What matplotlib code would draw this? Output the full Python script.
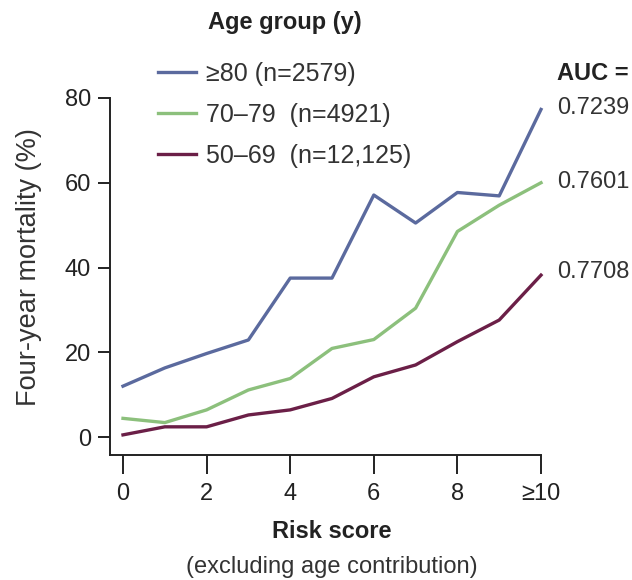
import matplotlib
matplotlib.use("Agg")
import matplotlib.pyplot as plt

plt.rcParams['font.family'] = ['Liberation Sans', 'DejaVu Sans']

# Data
risk_score = [0, 1, 2, 3, 4, 5, 6, 7, 8, 9, 10]
tick_pos = [0, 2, 4, 6, 8, 10]
tick_labels = ["0", "2", "4", "6", "8", "≥10"]

age_80 = [12.0, 16.3, 19.7, 22.9, 37.5, 37.5, 57.1, 50.5, 57.7, 56.9, 77.3]
age_70 = [4.4, 3.4, 6.4, 11.1, 13.8, 20.9, 23.0, 30.4, 48.5, 54.7, 60.0]
age_50 = [0.5, 2.4, 2.4, 5.2, 6.4, 9.1, 14.2, 17.0, 22.5, 27.6, 38.2]

labels = ["≥80 (n=2579)", "70–79  (n=4921)", "50–69  (n=12,125)"]
auc = ["0.7239", "0.7601", "0.7708"]
auc_y = [77.6, 60.2, 38.9]
colors = ["#5b6a9e", "#8cc07c", "#6b1f47"]

fig = plt.figure(figsize=(6.32, 5.8), dpi=100)
W, H = 632, 580
ax = fig.add_axes([110 / W, 1 - 455 / H, (543 - 110) / W, (455 - 60) / H])

# pixel scale of the data axes
px_x = 41.8
px_y = 4.2375
ax.set_xlim(-(123 - 110) / px_x, 10 + 2 / px_x)
ax.set_ylim(-(455 - 437) / px_y, 80 + (98 - 60) / px_y)

lines = []
for vals, c, lab in zip([age_80, age_70, age_50], colors, labels):
    ln, = ax.plot(risk_score, vals, color=c, lw=2.4, label=lab, clip_on=False)
    lines.append(ln)

ax.spines['top'].set_visible(False)
ax.spines['right'].set_visible(False)
ax.spines['left'].set_bounds(ax.get_ylim()[0], 80)
ax.spines['bottom'].set_bounds(ax.get_xlim()[0], 10)
for s in ['left', 'bottom']:
    ax.spines[s].set_linewidth(1.4)
    ax.spines[s].set_color('#222222')

ax.set_yticks([0, 20, 40, 60, 80])
ax.set_xticks(tick_pos)
ax.set_xticklabels(tick_labels)
ax.tick_params(axis='y', length=8.6, width=1.4, pad=5, labelsize=17, colors='#222222')
ax.tick_params(axis='x', length=14, width=1.4, pad=6, labelsize=17, colors='#222222')

ax.set_ylabel("Four-year mortality (%)", fontsize=19.5, color='#333333')
ax.yaxis.set_label_coords(29 / W, 1 - 267 / H, transform=fig.transFigure)
ax.yaxis.label.set_va('center')
ax.set_xlabel("Risk score", fontsize=17, fontweight='bold', color='#222222')
ax.xaxis.set_label_coords(332 / W, 1 - 531 / H, transform=fig.transFigure)
ax.xaxis.label.set_va('center')
fig.text(332 / W, 1 - 567 / H, "(excluding age contribution)", fontsize=17,
         color='#333333', ha='center', va='center')

leg = ax.legend(handles=lines, loc='upper left', bbox_to_anchor=(158 / W, 1 - 62 / H),
                bbox_transform=fig.transFigure, frameon=False, fontsize=18,
                handlelength=1.5, handletextpad=0.4, labelspacing=0.68,
                borderpad=0, borderaxespad=0)
for t in leg.get_texts():
    t.set_color('#333333')
fig.text(208 / W, 1 - 23 / H, "Age group (y)", fontsize=17, fontweight='bold',
         color='#222222', ha='left', va='center')

ax.text(10.38, 85.7, "AUC =", fontsize=17, fontweight='bold', color='#222222',
        ha='left', va='center', clip_on=False)
for a, y in zip(auc, auc_y):
    ax.text(10.38, y, a, fontsize=17, color='#333333', ha='left', va='center', clip_on=False)

fig.savefig("out.png", dpi=100)
